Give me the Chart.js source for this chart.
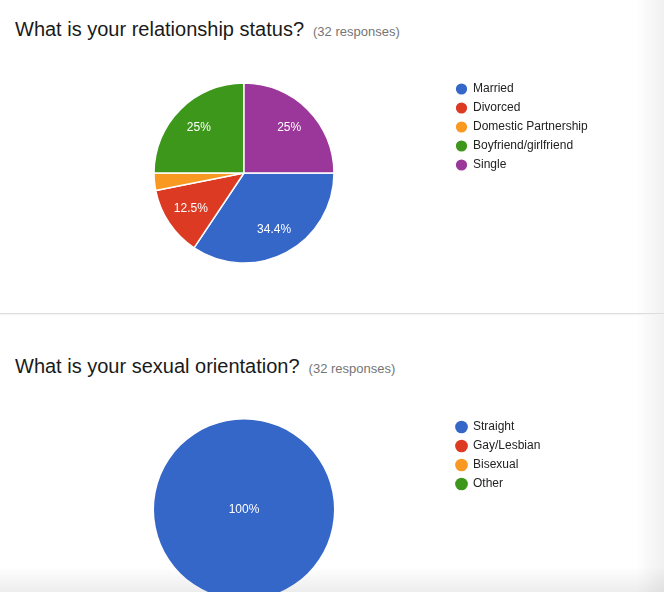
<!DOCTYPE html>
<html>
<head>
<meta charset="utf-8">
<script src="https://cdn.jsdelivr.net/npm/chart.js@4/dist/chart.umd.min.js"></script>
<style>
  html, body { margin: 0; padding: 0; background: #fff; overflow: hidden; }
  body { width: 664px; height: 592px; position: relative; font-family: "Liberation Sans", Arial, sans-serif; }
  .title { position: absolute; left: 15px; font-size: 20px; line-height: 20px; color: #1a1a1a; white-space: nowrap; }
  .title span { font-size: 13px; color: #757575; margin-left: 9px; }
  .divider { position: absolute; left: 0; top: 313px; width: 664px; height: 1px; background: #dedede; }
  .divider2 { position: absolute; left: 0; top: 314px; width: 664px; height: 1px; background: #f4f4f4; }
  .shade-r { position: absolute; left: 636px; top: 0; width: 28px; height: 592px;
             background: linear-gradient(to right, rgba(0,0,0,0), rgba(0,0,0,0.06)); }
  .shade-b { position: absolute; left: 0; top: 566px; width: 664px; height: 26px;
             background: linear-gradient(to bottom, rgba(0,0,0,0), rgba(0,0,0,0.07)); }
  canvas { position: absolute; left: 0; }
</style>
</head>
<body>
<div class="shade-b"></div>
<div class="shade-r"></div>
<div class="title" style="top:19px">What is your relationship status?<span>(32 responses)</span></div>
<div class="divider"></div>
<div class="divider2"></div>
<div class="title" style="top:356px">What is your sexual orientation?<span>(32 responses)</span></div>
<canvas id="relChart" width="664" height="250" style="top:40px"></canvas>
<canvas id="orientChart" width="664" height="290" style="top:330px"></canvas>
<script>
// relationship status, 32 responses
const relLabels = ["Married", "Divorced", "Domestic Partnership", "Boyfriend/girlfriend", "Single"];
const relCounts = [11, 4, 1, 8, 8];

// sexual orientation, 32 responses
const orientLabels = ["Straight", "Gay/Lesbian", "Bisexual", "Other"];
const orientCounts = [32, 0, 0, 0];

const sliceColors = ["#3567c9", "#dc3a22", "#fa9922", "#3d971b", "#9b379a"];

const FONT = '"Liberation Sans", Arial, sans-serif';
Chart.defaults.font.family = FONT;

// percentage text inside each slice, like google forms
const sliceLabels = {
  id: "sliceLabels",
  afterDatasetsDraw(chart) {
    const ctx = chart.ctx;
    const data = chart.data.datasets[0].data;
    const total = data.reduce((a, b) => a + b, 0);
    const meta = chart.getDatasetMeta(0);
    ctx.save();
    ctx.fillStyle = "#fff";
    ctx.font = "12px " + FONT;
    ctx.textAlign = "center";
    ctx.textBaseline = "middle";
    meta.data.forEach((arc, i) => {
      const frac = data[i] / total;
      if (frac < 0.05) return;
      let pct = Math.round(frac * 1000) / 10;
      let x = arc.x, y = arc.y;
      if (frac < 0.999) {
        const mid = (arc.startAngle + arc.endAngle) / 2;
        const r = arc.outerRadius * 0.71;
        x += Math.cos(mid) * r;
        y += Math.sin(mid) * r;
      }
      ctx.fillText(pct + "%", x, y);
    });
    ctx.restore();
  }
};

// legend: box 11 wide, padding 7, width = 7 + 11 + 6 + text + 10
function rightPad(labels, legendLeft, canvasWidth) {
  const c = document.createElement("canvas").getContext("2d");
  c.font = "12px " + FONT;
  const textW = Math.max(...labels.map(l => c.measureText(l).width));
  return canvasWidth - (legendLeft + 34 + textW);
}

function makePie(id, labels, counts, pad, border) {
  return new Chart(document.getElementById(id), {
    type: "pie",
    data: {
      labels: labels,
      datasets: [{
        data: counts,
        backgroundColor: sliceColors.slice(0, labels.length),
        borderColor: "#fff",
        borderWidth: border
      }]
    },
    options: {
      responsive: false,
      animation: false,
      radius: 90,
      rotation: 90,
      layout: { padding: pad },
      plugins: {
        tooltip: { enabled: false },
        legend: {
          position: "right",
          align: "start",
          labels: {
            usePointStyle: true,
            pointStyle: "circle",
            boxWidth: 11,
            boxHeight: 9,
            padding: 7,
            color: "#222",
            font: { size: 12, family: FONT }
          }
        }
      }
    },
    plugins: [sliceLabels]
  });
}

makePie("relChart", relLabels, relCounts,
  { left: 39, top: 36, bottom: 20, right: rightPad(relLabels, 449, 664) }, 1.5);
makePie("orientChart", orientLabels, orientCounts,
  { left: 39, top: 84, bottom: 15, right: rightPad(orientLabels, 449, 664) }, 0);
</script>
</body>
</html>
